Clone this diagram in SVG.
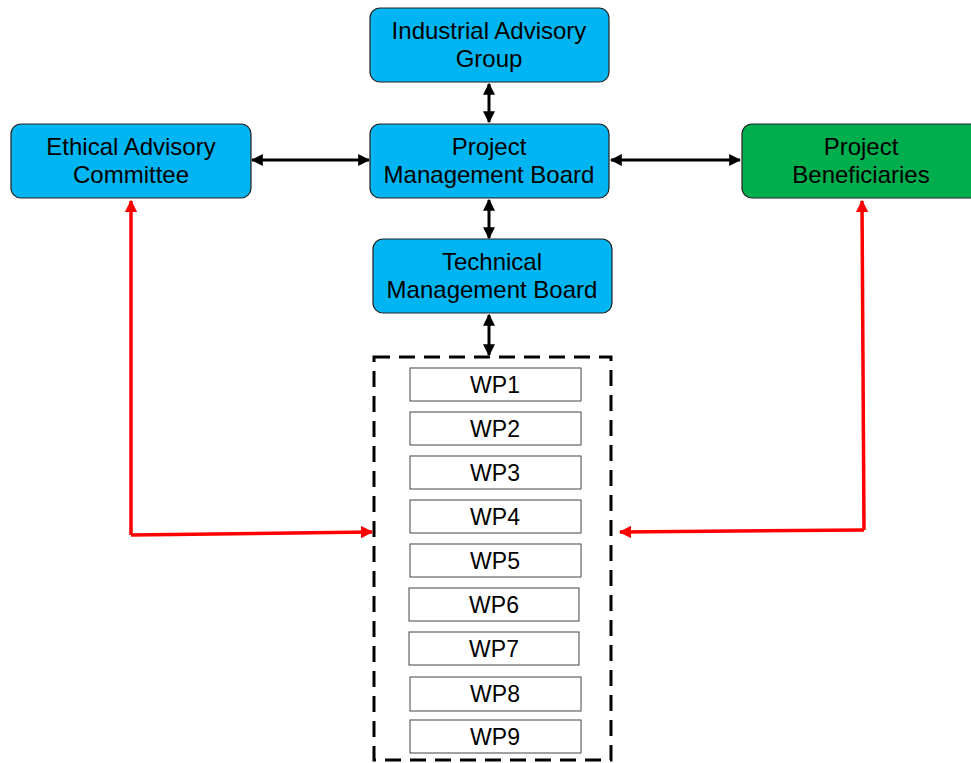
<svg xmlns="http://www.w3.org/2000/svg" width="971" height="763" viewBox="0 0 971 763">
<defs>
<style>
.node{fill:#00B5F2;stroke:#222;stroke-width:1.2}
.green{fill:#00AE4E;stroke:#222;stroke-width:1.2}
.lbl{font-family:"Liberation Sans",Arial,sans-serif;font-size:24px;fill:#000;text-anchor:middle}
.wp{fill:#fff;stroke:#444;stroke-width:1}
.wpl{font-family:"Liberation Sans",Arial,sans-serif;font-size:23px;fill:#000;text-anchor:middle}
.blk{stroke:#000;stroke-width:3;fill:none}
.red{stroke:#FF0000;stroke-width:3.5;fill:none}
</style>
<marker id="ab" viewBox="0 0 10 10" refX="9" refY="5" markerWidth="4" markerHeight="4" orient="auto-start-reverse" markerUnits="strokeWidth"><path d="M0,0 L10,5 L0,10 z" fill="#000"/></marker>
<marker id="ar" viewBox="0 0 10 10" refX="9" refY="5" markerWidth="3.6" markerHeight="3.6" orient="auto" markerUnits="strokeWidth"><path d="M0,0 L10,5 L0,10 z" fill="#FF0000"/></marker>
</defs>
<rect width="971" height="763" fill="#fff"/>
<g id="iag"><rect class="node" x="370" y="8" width="239" height="74" rx="10"/><text class="lbl" x="489" y="39">Industrial Advisory</text><text class="lbl" x="489" y="67">Group</text></g>
<g id="pmb"><rect class="node" x="370" y="124" width="239" height="74" rx="10"/><text class="lbl" x="489" y="155">Project</text><text class="lbl" x="489" y="183">Management Board</text></g>
<g id="eac"><rect class="node" x="11" y="124" width="240" height="74" rx="10"/><text class="lbl" x="131" y="155">Ethical Advisory</text><text class="lbl" x="131" y="183">Committee</text></g>
<g id="pb"><rect class="green" x="742" y="124" width="240" height="74" rx="10"/><text class="lbl" x="861" y="155">Project</text><text class="lbl" x="861" y="183">Beneficiaries</text></g>
<g id="tmb"><rect class="node" x="373" y="239" width="239" height="74" rx="10"/><text class="lbl" x="492" y="270">Technical</text><text class="lbl" x="492" y="298">Management Board</text></g>
<g id="wps">
<rect x="374" y="357" width="237" height="403" fill="none" stroke="#000" stroke-width="3" stroke-dasharray="16,9"/>
<g id="wp1"><rect class="wp" x="410" y="368" width="171" height="33"/><text class="wpl" x="495" y="393">WP1</text></g>
<g id="wp2"><rect class="wp" x="410" y="412" width="171" height="33"/><text class="wpl" x="495" y="437">WP2</text></g>
<g id="wp3"><rect class="wp" x="410" y="456" width="171" height="33"/><text class="wpl" x="495" y="481">WP3</text></g>
<g id="wp4"><rect class="wp" x="410" y="500" width="171" height="33"/><text class="wpl" x="495" y="525">WP4</text></g>
<g id="wp5"><rect class="wp" x="410" y="544" width="171" height="33"/><text class="wpl" x="495" y="569">WP5</text></g>
<g id="wp6"><rect class="wp" x="409" y="588" width="170" height="33"/><text class="wpl" x="494" y="613">WP6</text></g>
<g id="wp7"><rect class="wp" x="409" y="632" width="170" height="33"/><text class="wpl" x="494" y="657">WP7</text></g>
<g id="wp8"><rect class="wp" x="410" y="677" width="171" height="34"/><text class="wpl" x="495" y="702">WP8</text></g>
<g id="wp9"><rect class="wp" x="410" y="720" width="171" height="33"/><text class="wpl" x="495" y="745">WP9</text></g>
</g>
<g id="connectors">
<line class="blk" x1="489" y1="84" x2="489" y2="122" marker-start="url(#ab)" marker-end="url(#ab)"/>
<line class="blk" x1="489" y1="200" x2="489" y2="238" marker-start="url(#ab)" marker-end="url(#ab)"/>
<line class="blk" x1="489" y1="315" x2="489" y2="355" marker-start="url(#ab)" marker-end="url(#ab)"/>
<line class="blk" x1="252" y1="160" x2="369" y2="160" marker-start="url(#ab)" marker-end="url(#ab)"/>
<line class="blk" x1="611" y1="160" x2="740" y2="160" marker-start="url(#ab)" marker-end="url(#ab)"/>
<polyline class="red" points="131,535 131,201" marker-end="url(#ar)"/>
<polyline class="red" points="131,535 372,532" marker-end="url(#ar)"/>
<polyline class="red" points="864,530 862,201" marker-end="url(#ar)"/>
<polyline class="red" points="864,530 620,532" marker-end="url(#ar)"/>
</g>
</svg>
